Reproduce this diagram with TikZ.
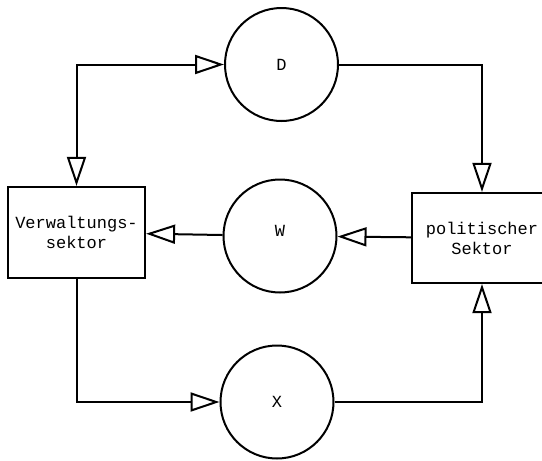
\documentclass[tikz,border=0pt]{standalone}
\usepackage{fontspec}
\setmonofont{Liberation Mono}
\usetikzlibrary{arrows.meta}
\begin{document}
\begin{tikzpicture}[x=1pt,y=-1pt,
  every node/.style={font=\ttfamily\fontsize{17}{20}\selectfont},
  kreis/.style={draw, circle, line width=2pt, minimum size=113pt, inner sep=0pt},
  sektor/.style={draw, rectangle, line width=2.2pt, inner sep=0pt, align=center},
  pfeil/.style={line width=2pt, -{Triangle[open, length=29pt, width=19pt, fill=white]}},
  doppel/.style={line width=2pt, {Triangle[open, length=29pt, width=19pt, fill=white]}-{Triangle[open, length=29pt, width=19pt, fill=white]}}
]
\path[use as bounding box, clip] (0,0) rectangle (542,461);
\node[kreis] (D) at (281.5,64.5) {D};
\node[kreis] (W) at (280,236) {};
\node at (280,231) {W};
\node[kreis] (X) at (277,402) {X};
\node[sektor, minimum width=137pt, minimum height=91pt] (V) at (76.5,232.5) {Verwaltungs-\\sektor};
\node[sektor, minimum width=140pt, minimum height=90pt] (P) at (482,238) {politischer\\Sektor};
\draw[doppel] (V.north) |- (D.west);
\draw[pfeil] (D.east) -| (P.north);
\draw[pfeil] (P) -- (W);
\draw[pfeil] (W) -- (V);
\draw[pfeil] (V.south) |- (X.west);
\draw[pfeil] (X.east) -| (P.south);
\end{tikzpicture}
\end{document}
